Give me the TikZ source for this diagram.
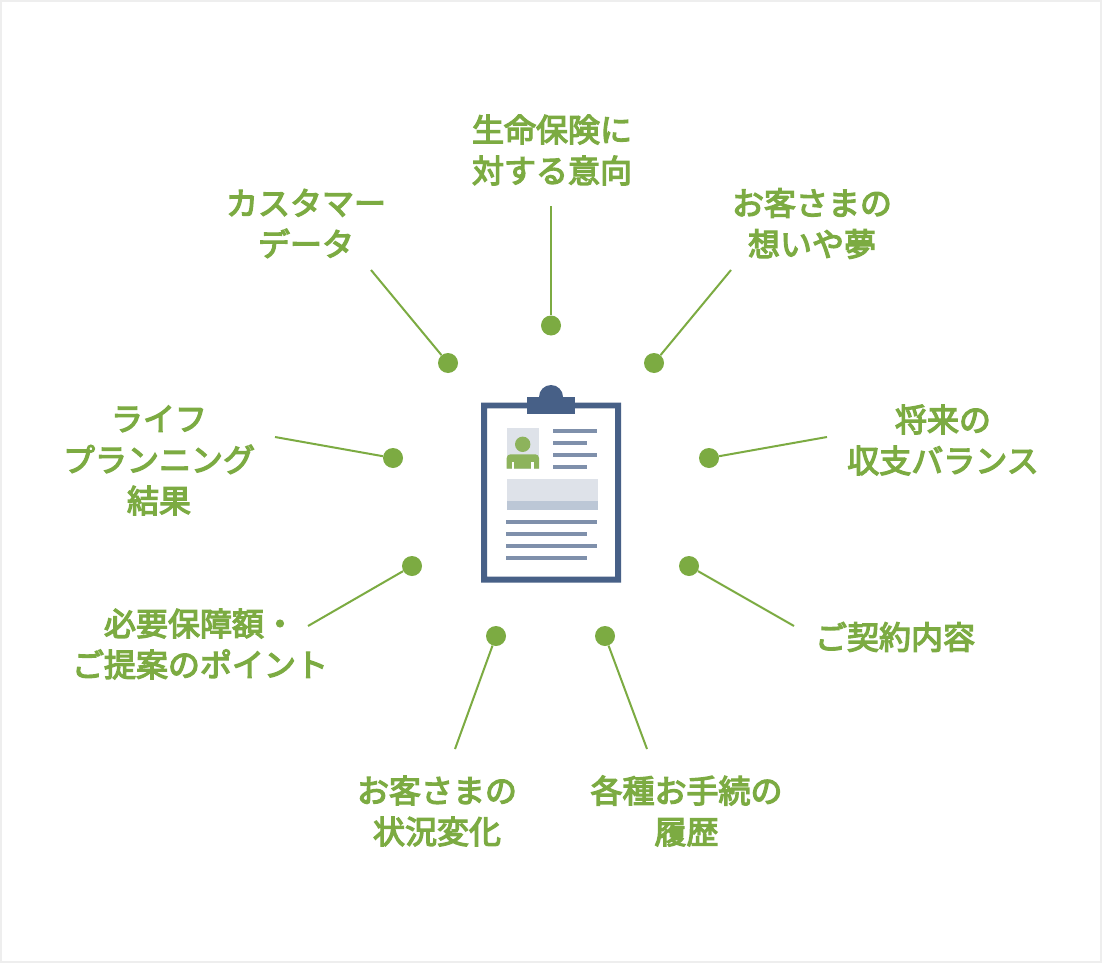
\documentclass[tikz,border=0pt]{standalone}
\usepackage{fontspec}
\setmainfont{Noto Sans CJK JP}
\newfontfamily\labfont{Noto Sans CJK JP}[FakeBold=4]
\definecolor{leaf}{HTML}{7CAB42}
\definecolor{soft}{HTML}{8DB35C}
\definecolor{navy}{HTML}{476087}
\definecolor{steel}{HTML}{7F90AB}
\definecolor{pale}{HTML}{DEE2E9}
\definecolor{mist}{HTML}{BCC7D6}
\definecolor{edge}{HTML}{EEEEEE}
\tikzset{
  lab/.style={inner sep=0pt,align=center,text=leaf,font=\fontsize{24pt}{30.75pt}\selectfont\labfont},
  dot/.style={circle,fill=leaf,draw=none,minimum size=15pt,inner sep=0pt},
  spoke/.style={draw=leaf,line width=1.5pt},
  bar/.style={fill=steel,draw=none},
}
\begin{document}
\begin{tikzpicture}[x=0.75pt,y=-0.75pt]
\useasboundingbox (0,0) rectangle (1102,963);
\draw[edge,line width=1.5pt,fill=white] (1,1) rectangle (1101,962);
% labels
\node[lab] (t1) at (552,150) {生命保険に\\対する意向};
\node[lab] (t2) at (306,223.5) {カスタマー\\データ};
\node[lab] (t3) at (812,223.5) {お客さまの\\想いや夢};
\node[lab] (t4) at (159,460.5) {ライフ\\プランニング\\結果};
\node[lab] (t5) at (943,440) {将来の\\収支バランス};
\node[lab] (t6) at (200,644) {必要保障額・\\ご提案のポイント};
\node[lab] (t7) at (895,637) {ご契約内容};
\node[lab] (t8) at (437,811) {お客さまの\\状況変化};
\node[lab] (t9) at (686.5,811) {各種お手続の\\履歴};
% dots
\node[dot] (d1) at (551,325.5) {};
\node[dot] (d2) at (448,363) {};
\node[dot] (d3) at (654,363) {};
\node[dot] (d4) at (393,458) {};
\node[dot] (d5) at (709,458) {};
\node[dot] (d6) at (412,566) {};
\node[dot] (d7) at (689,566) {};
\node[dot] (d8) at (496,636) {};
\node[dot] (d9) at (605,636) {};
% free ends
\coordinate (e1) at (551,206);
\coordinate (e2) at (371,270);
\coordinate (e3) at (731,270);
\coordinate (e4) at (275,437);
\coordinate (e5) at (827,437);
\coordinate (e6) at (308,626);
\coordinate (e7) at (794,626);
\coordinate (e8) at (455,749);
\coordinate (e9) at (647,749);
\foreach \i in {1,...,9} \draw[spoke] (e\i) -- (d\i);
% clipboard
\fill[navy,even odd rule] (481,402.5) rectangle (621,582.5) (487,408.3) rectangle (615,576.7);
\fill[navy] (527,397) rectangle (575,413.7);
\fill[navy] (539,397) arc[start angle=180,end angle=360,radius=12] -- cycle;
% photo
\fill[pale] (506.7,428.3) rectangle (539,468.7);
\fill[soft] (522.7,444.3) circle[radius=7.7];
\fill[soft] (506.7,468.7) -- (506.7,458) arc[start angle=180,end angle=270,radius=3.7] -- (535.3,454.3) arc[start angle=270,end angle=360,radius=3.7] -- (539,468.7) -- cycle;
\fill[white] (512,462.3) rectangle (514.3,468.7);
\fill[white] (531.3,462.3) rectangle (533.7,468.7);
% upper text bars
\fill[bar] (552.7,428.5) rectangle (597,432.5);
\fill[bar] (552.7,440.5) rectangle (587,444.5);
\fill[bar] (552.7,452.5) rectangle (597,456.5);
\fill[bar] (552.7,464.5) rectangle (587,468.5);
% block
\fill[pale] (506.7,479) rectangle (597.7,501);
\fill[mist] (506.7,501) rectangle (597.7,510);
% lower text bars
\fill[bar] (506,520) rectangle (596.7,524);
\fill[bar] (506,532) rectangle (586.7,536);
\fill[bar] (506,544) rectangle (596.7,548);
\fill[bar] (506,556) rectangle (586.7,560);
\end{tikzpicture}
\end{document}
